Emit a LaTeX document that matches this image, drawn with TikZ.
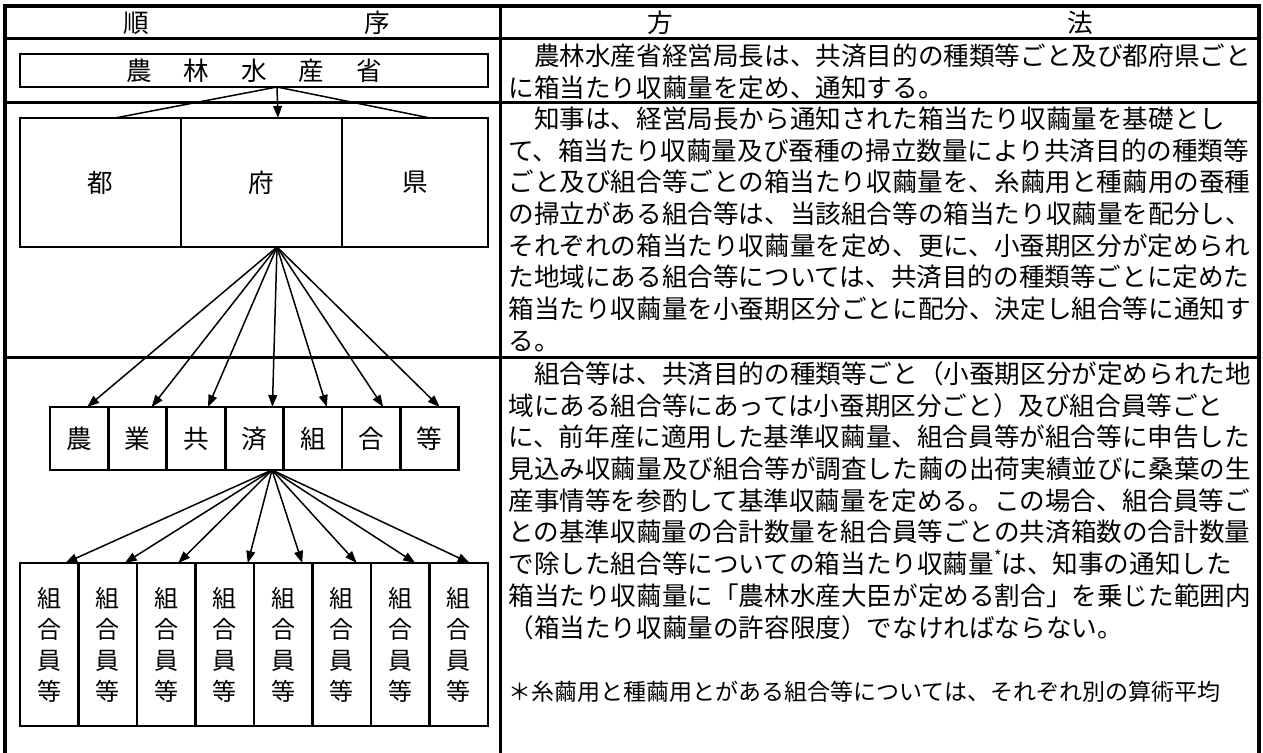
\documentclass[tikz,border=0pt]{standalone}
\usepackage{fontspec}
\setmainfont{Noto Sans CJK JP}
\usetikzlibrary{arrows.meta}
\usetikzlibrary{positioning}

\begin{document}
\begin{tikzpicture}[x=0.5pt,y=-0.5pt,font=\fontsize{12.8pt}{15.85pt}\selectfont]
		\tikzstyle{outerline}=[line width=2pt];
		\tikzstyle{tableline}=[line width=1.5pt];
		\tikzstyle{cellbox}=[draw,rectangle,line width=1.4pt,inner sep=0pt,outer sep=0pt];
		\tikzstyle{prefcell}=[cellbox,minimum width=80.5pt,minimum height=64.5pt];
		\tikzstyle{coopcell}=[cellbox,minimum width=29.2pt,minimum height=31.5pt];
		\tikzstyle{membercell}=[cellbox,minimum width=29.25pt,minimum height=81.5pt,
			align=center,font=\fontsize{12pt}{15.5pt}\selectfont];
		\tikzstyle{link}=[line width=0.75pt,-{Triangle[length=6pt,width=4.4pt]}];
		\tikzstyle{bodytext}=[anchor=north west,align=left,inner sep=0pt];
		\useasboundingbox (0,0) rectangle (1263,753);

		% table rules
		\draw[outerline] (5,753) -- (5,6.5) -- (1259,6.5) -- (1259,753);
		\draw[tableline] (5,39) -- (1259,39) (5,103) -- (1259,103) (5,358) -- (1259,358);
		\draw[tableline] (500,6.5) -- (500,753);

		% heads
		\node (headA) at (136,23) {順};
		\node (headB) at (377,23) {序};
		\node (headC) at (660,23) {方};
		\node (headD) at (1080,23) {法};

		% left column
		\node[cellbox,minimum width=234pt,minimum height=16.5pt](maff) at (254,70.5)
			{農\hspace{16pt}林\hspace{16pt}水\hspace{16pt}産\hspace{16pt}省};
		\node[prefcell](to) at (100.5,182.5){都};
		\node[prefcell,right=0pt of to](fu){府};
		\node[prefcell,minimum width=73pt,right=0pt of fu](ken){県};
		\node[coopcell](k1) at (79.2,438.5){農};
		\node[coopcell,right=0pt of k1](k2){業};
		\node[coopcell,right=0pt of k2](k3){共};
		\node[coopcell,right=0pt of k3](k4){済};
		\node[coopcell,right=0pt of k4](k5){組};
		\node[coopcell,right=0pt of k5](k6){合};
		\node[coopcell,right=0pt of k6](k7){等};
		\node[membercell](m1) at (49.25,644.5){組\\合\\員\\等};
		\node[membercell,right=0pt of m1](m2){組\\合\\員\\等};
		\node[membercell,right=0pt of m2](m3){組\\合\\員\\等};
		\node[membercell,right=0pt of m3](m4){組\\合\\員\\等};
		\node[membercell,right=0pt of m4](m5){組\\合\\員\\等};
		\node[membercell,right=0pt of m5](m6){組\\合\\員\\等};
		\node[membercell,right=0pt of m6](m7){組\\合\\員\\等};
		\node[membercell,right=0pt of m7](m8){組\\合\\員\\等};

		\coordinate (maffout) at ([xshift=11.5pt]maff.south);
		\coordinate (prefout) at ([xshift=7.75pt]fu.south);
		\coordinate (coopout) at ([xshift=8.8pt]k4.south);

		\draw[line width=0.75pt](maffout)--([xshift=7.25pt]to.north);
		\draw[link](maffout)--([xshift=8.25pt]fu.north);
		\draw[line width=0.75pt](maffout)--([xshift=7.5pt]ken.north);

		\draw[link](prefout)--([xshift=4pt]k1.north);
		\draw[link](prefout)--([xshift=7pt]k2.north);
		\draw[link](prefout)--([xshift=6pt]k3.north);
		\draw[link](prefout)--([xshift=9pt]k4.north);
		\draw[link](prefout)--([xshift=7pt]k5.north);
		\draw[link](prefout)--([xshift=6pt]k6.north);
		\draw[link](prefout)--([xshift=5pt]k7.north);

		\draw[link](coopout)--([xshift=8pt]m1.north);
		\draw[link](coopout)--([xshift=8.5pt]m2.north);
		\draw[link](coopout)--([xshift=6pt]m3.north);
		\draw[link](coopout)--([xshift=11.5pt]m4.north);
		\draw[link](coopout)--([xshift=9.5pt]m5.north);
		\draw[link](coopout)--([xshift=7.5pt]m6.north);
		\draw[link](coopout)--([xshift=7.5pt]m7.north);
		\draw[link](coopout)--([xshift=5.5pt]m8.north);

		% right column
		\node[bodytext](lawA) at (508,42){\rule{0pt}{11.5pt}　農林水産省経営局長は、共済目的の種類等ごと及び都府県ごと\\
			に箱当たり収繭量を定め、通知する。};
		\node[bodytext](lawB) at (508,105){\rule{0pt}{11.5pt}　知事は、経営局長から通知された箱当たり収繭量を基礎とし\\
			て、箱当たり収繭量及び蚕種の掃立数量により共済目的の種類等\\
			ごと及び組合等ごとの箱当たり収繭量を、糸繭用と種繭用の蚕種\\
			の掃立がある組合等は、当該組合等の箱当たり収繭量を配分し、\\
			それぞれの箱当たり収繭量を定め、更に、小蚕期区分が定められ\\
			た地域にある組合等については、共済目的の種類等ごとに定めた\\
			箱当たり収繭量を小蚕期区分ごとに配分、決定し組合等に通知す\\
			る。};
		\node[bodytext](lawC) at (508,360){\rule{0pt}{11.5pt}　組合等は、共済目的の種類等ごと（小蚕期区分が定められた地\\
			域にある組合等にあっては小蚕期区分ごと）及び組合員等ごと\\
			に、前年産に適用した基準収繭量、組合員等が組合等に申告した\\
			見込み収繭量及び組合等が調査した繭の出荷実績並びに桑葉の生\\
			産事情等を参酌して基準収繭量を定める。この場合、組合員等ご\\
			との基準収繭量の合計数量を組合員等ごとの共済箱数の合計数量\\
			で除した組合等についての箱当たり収繭量\raisebox{0.45em}{\fontsize{8pt}{8pt}\selectfont *}は、知事の通知した\\
			箱当たり収繭量に「農林水産大臣が定める割合」を乗じた範囲内\\
			（箱当たり収繭量の許容限度）でなければならない。};
		\node[bodytext,font=\fontsize{11.5pt}{14pt}\selectfont](note) at (508,679)
			{\rule{0pt}{10.5pt}＊糸繭用と種繭用とがある組合等については、それぞれ別の算術平均};
\end{tikzpicture}
\end{document}
